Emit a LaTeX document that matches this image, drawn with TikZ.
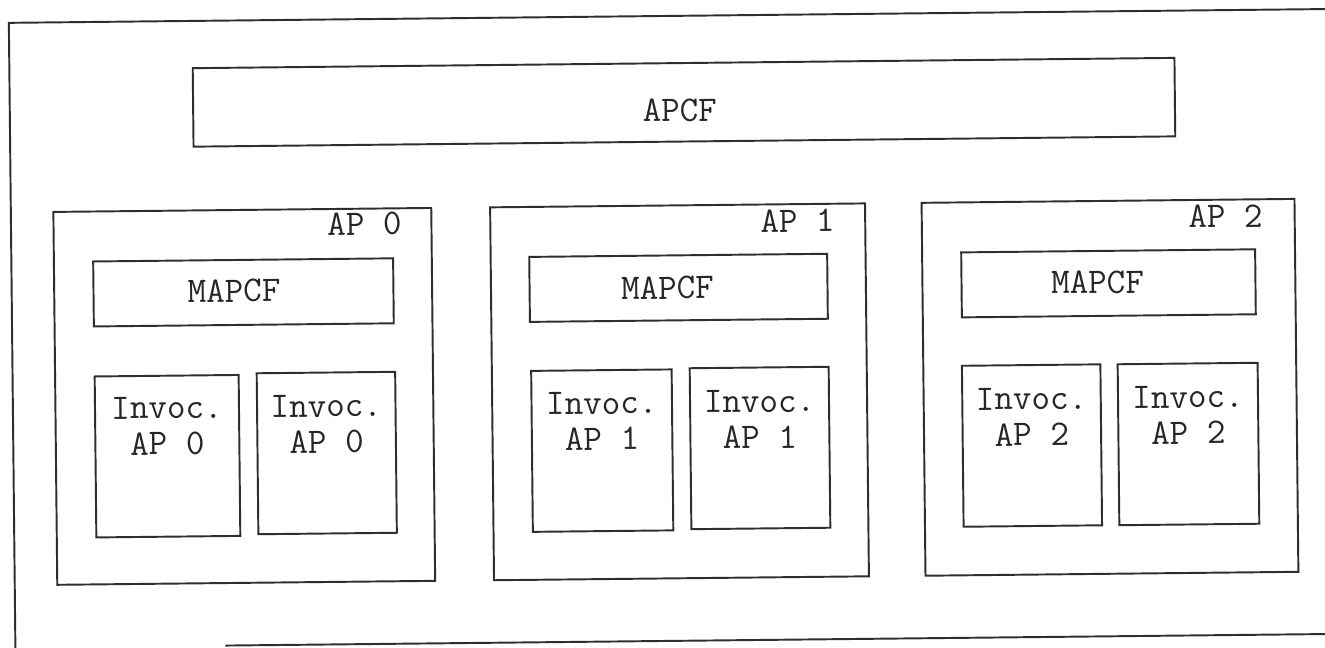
\documentclass[tikz,border=0pt]{standalone}
\usepackage{fontspec}
\newcommand\labelfont{\ttfamily\fontsize{20.5}{20.6}\selectfont}
\tikzset{
  frameline/.style={draw=black!82, line width=1.1pt},
  box/.style={frameline, rectangle, inner sep=0pt, outer sep=0pt},
  lbl/.style={font=\labelfont, inner sep=0pt, text=black!85},
}
\begin{document}
\begin{tikzpicture}[x=0.02cm, y=-0.02cm]
  \useasboundingbox (0,0) rectangle (1325,647);
  \fill[white] (0,0) rectangle (1325,647);
  \clip (0,0) rectangle (1325,647);
  \begin{scope}[rotate around={0.6:(662,323)}, transform shape]
    % outer frame (open on the right)
    \coordinate (ftl) at (12,16);
    \coordinate (fbl) at (12,670);
    \coordinate (ftr) at (1350,16);
    \coordinate (fbs) at (222,641);
    \coordinate (fbr) at (1350,641);
    \draw[frameline] (fbl) -- (ftl) -- (ftr);
    \draw[frameline] (fbs) -- (fbr);

    % top-level controller
    \node[box, minimum width=19.64cm, minimum height=1.57cm] (apcf) at (686.3,102.5) {};
    \node[lbl] (apcfT) at (682,110.7) {APCF};

    % application processors
    \node[box, minimum width=7.56cm, minimum height=7.46cm] (ap0) at (243.5,392) {};
    \node[box, minimum width=7.50cm, minimum height=7.46cm] (ap1) at (678.8,392) {};
    \node[box, minimum width=7.46cm, minimum height=7.46cm] (ap2) at (1109.3,392) {};
    \node[lbl] (ap0T) at (365.5,221) {AP 0};
    \node[lbl] (ap1T) at (798.6,222) {AP 1};
    \node[lbl] (ap2T) at (1226.6,222) {AP 2};

    % per-AP controllers
    \node[box, minimum width=6.00cm, minimum height=1.30cm] (m0) at (243.8,288) {};
    \node[box, minimum width=5.96cm, minimum height=1.30cm] (m1) at (678.9,288) {};
    \node[box, minimum width=5.88cm, minimum height=1.30cm] (m2) at (1108.9,288) {};
    \node[lbl] (m0T) at (234.4,286.5) {MAPCF};
    \node[lbl] (m1T) at (667.9,288) {MAPCF};
    \node[lbl] (m2T) at (1098,287) {MAPCF};

    % invocations
    \node[box, minimum width=2.88cm, minimum height=3.22cm] (i0a) at (166.1,451) {};
    \node[box, minimum width=2.77cm, minimum height=3.22cm] (i0b) at (325.4,449.5) {};
    \node[box, minimum width=2.81cm, minimum height=3.22cm] (i1a) at (600.9,450) {};
    \node[box, minimum width=2.78cm, minimum height=3.22cm] (i1b) at (758.7,449) {};
    \node[box, minimum width=2.77cm, minimum height=3.22cm] (i2a) at (1030.7,449.4) {};
    \node[box, minimum width=2.80cm, minimum height=3.22cm] (i2b) at (1187.2,449.5) {};
    \node[lbl, align=center, anchor=north] (i0aT) at (166.1,391) {Invoc.\\AP 0};
    \node[lbl, align=center, anchor=north] (i0bT) at (325.4,391) {Invoc.\\AP 0};
    \node[lbl, align=center, anchor=north] (i1aT) at (600.9,391) {Invoc.\\AP 1};
    \node[lbl, align=center, anchor=north] (i1bT) at (758.7,391) {Invoc.\\AP 1};
    \node[lbl, align=center, anchor=north] (i2aT) at (1030.7,391) {Invoc.\\AP 2};
    \node[lbl, align=center, anchor=north] (i2bT) at (1187.2,391) {Invoc.\\AP 2};
  \end{scope}
\end{tikzpicture}
\end{document}
